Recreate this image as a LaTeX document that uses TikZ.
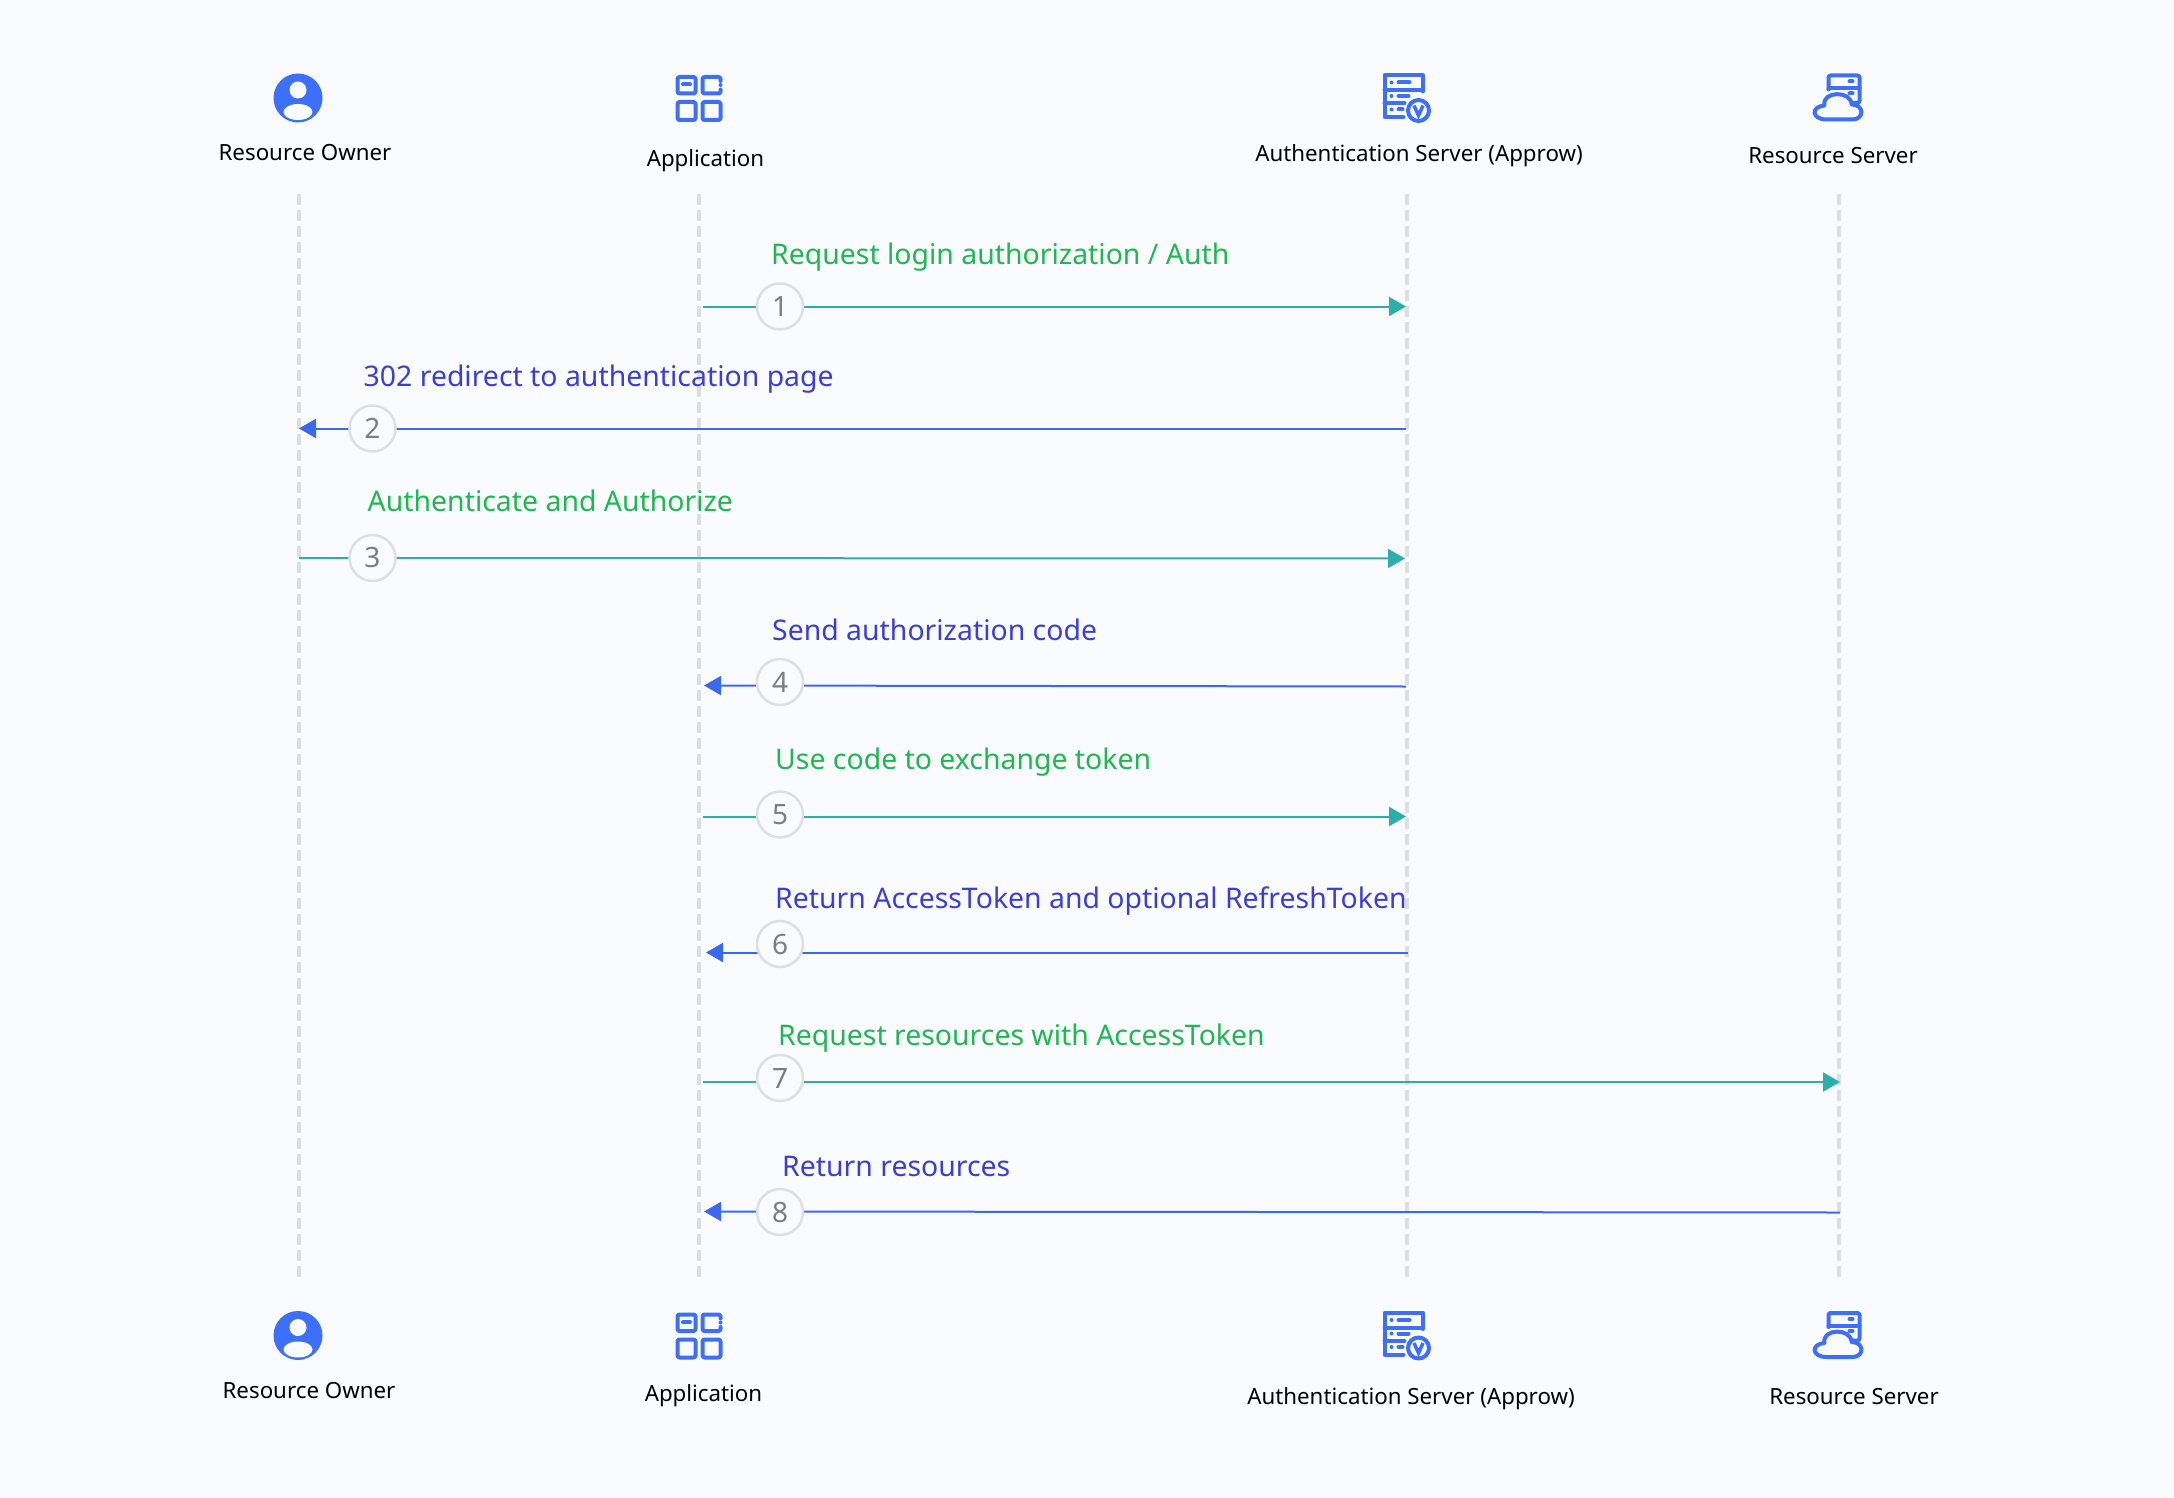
\documentclass[tikz,border=0pt]{standalone}
\usepackage{fontspec}
\setmainfont{Noto Sans}
\usetikzlibrary{arrows.meta}
\definecolor{bgc}{HTML}{FAFBFF}
\definecolor{iconblue}{HTML}{3D6FF8}
\definecolor{lifeg}{HTML}{DCDEE3}
\definecolor{teall}{HTML}{2BAFA8}
\definecolor{bluel}{HTML}{3B69EE}
\definecolor{greent}{HTML}{1DB84F}
\definecolor{bluet}{HTML}{3A3FD2}
\definecolor{numg}{HTML}{7A7D82}
\definecolor{ringg}{HTML}{DEDFE2}
\tikzset{
 x=1pt,y=-1pt,
 life/.style={draw=lifeg,line width=4pt,dash pattern=on 11pt off 5pt},
 msgteal/.style={draw=teall,line width=2pt,-{Triangle[length=17pt,width=19pt]}},
 msgblue/.style={draw=bluel,line width=2pt,-{Triangle[length=17pt,width=19pt]}},
 num/.style={circle,draw=ringg,line width=2.5pt,fill=bgc,minimum size=46pt,inner sep=0pt,text=numg,font=\fontsize{28}{28}\selectfont},
 actor/.style={anchor=base,text=black,inner sep=0pt,font=\fontsize{22.3}{26}\selectfont},
 gmsg/.style={anchor=base west,inner sep=0pt,text=greent,font=\fontsize{28.4}{32}\selectfont},
 bmsg/.style={anchor=base west,inner sep=0pt,text=bluet,font=\fontsize{28.4}{32}\selectfont},
 ic/.style={draw=iconblue,line width=4pt,line cap=round,line join=round},
 personicon/.pic={
  \fill[iconblue] (0,0) circle (24.5);
  \fill[bgc] (0,-8) circle (8.5);
  \fill[bgc] (0,14) ellipse (14.5 and 8);
 },
 appicon/.pic={
  \draw[ic,rounded corners=2pt] (-21.5,-21.5) rectangle (-3.5,-5);
  \draw[ic] (-16,-14) -- (-9,-14);
  \draw[ic,rounded corners=2pt] (21.5,-17.5) -- (21.5,-21.5) -- (3.5,-21.5) -- (3.5,-5) -- (21.5,-5) -- (21.5,-9);
  \fill[iconblue] (21.5,-13.5) circle (2);
  \draw[ic,rounded corners=2pt] (-21.5,3.5) rectangle (-3.5,21.5);
  \draw[ic,rounded corners=2pt] (3.5,3.5) rectangle (21.5,21.5);
 },
 authicon/.pic={
  \draw[ic] (-4,42.5) -- (-23,42.5) -- (-23,0.5) -- (15,0.5) -- (15,17);
  \draw[ic] (-23,15.5) -- (15,15.5);
  \draw[ic] (-23,29) -- (-3,29);
  \foreach \yy in {8,21.5,35}{
   \fill[iconblue] (-16,\yy) circle (2);
  }
  \draw[ic] (-9,8) -- (2,8);
  \draw[ic] (-9,21.5) -- (1,21.5);
  \draw[ic] (-9,35) -- (-5,35);
  \fill[bgc] (11,36) circle (10.5);
  \draw[ic] (11,36) circle (10.5);
  \draw[draw=iconblue,line width=3.5pt,line join=miter] (6.5,31) -- (11,41) -- (15.5,31);
 },
 resicon/.pic={
  \draw[ic,rounded corners=2pt] (-10,15) -- (-10,1) -- (21,1) -- (21,28.5) -- (14,28.5);
  \draw[ic] (-10,14) -- (21,14);
  \draw[ic] (11,7) -- (14,7);
  \draw[ic] (11,19) -- (14,19);
  \filldraw[ic,fill=bgc] (-12,45) -- (14,45) .. controls (26,45) and (26,30) .. (13,30)
   .. controls (13,16) and (-17,16) .. (-14,31)
   .. controls (-28,32) and (-27,45) .. (-12,45) -- cycle;
 },
}
\begin{document}
\begin{tikzpicture}
\useasboundingbox[fill=bgc] (0,0) rectangle (2174,1498);
% lifelines
\coordinate (ot) at (298.5,194); \coordinate (ob) at (298.5,1277);
\coordinate (at) at (699,194);   \coordinate (ab) at (699,1277);
\coordinate (st) at (1407,194);  \coordinate (sb) at (1407,1277);
\coordinate (rt) at (1839,194);  \coordinate (rb) at (1839,1277);
\draw[life] (ot) -- (ob);
\draw[life] (at) -- (ab);
\draw[life] (st) -- (sb);
\draw[life] (rt) -- (rb);
% icons
\pic at (298,98) {personicon};
\pic at (699,98.5) {appicon};
\pic at (1407.5,74.5) {authicon};
\pic at (1838.5,74.5) {resicon};
\pic at (298,1335.5) {personicon};
\pic at (699,1336) {appicon};
\pic at (1407.5,1312) {authicon};
\pic at (1838.5,1312) {resicon};
% actor labels
\node[actor] (l1) at (305,161) {Resource Owner};
\node[actor] (l2) at (705.5,167) {Application};
\node[actor] (l3) at (1419,162) {Authentication Server (Approw)};
\node[actor] (l4) at (1833,164) {Resource Server};
\node[actor] (l5) at (309,1398) {Resource Owner};
\node[actor] (l6) at (703.5,1401) {Application};
\node[actor] (l7) at (1411,1404) {Authentication Server (Approw)};
\node[actor] (l8) at (1854,1404) {Resource Server};
% message end points
\coordinate (s1) at (703,306.5);  \coordinate (e1) at (1406,306.5);
\coordinate (s2) at (1406,428.5); \coordinate (e2) at (299,428.5);
\coordinate (s3) at (299,558);    \coordinate (e3) at (1405,558.5);
\coordinate (s4) at (1406,686.5); \coordinate (e4) at (704,685.5);
\coordinate (s5) at (703,816.5);  \coordinate (e5) at (1406,816.5);
\coordinate (s6) at (1408,952.5); \coordinate (e6) at (706,952.5);
\coordinate (s7) at (703,1082);   \coordinate (e7) at (1840,1082);
\coordinate (s8) at (1840,1212.5);\coordinate (e8) at (704,1211.5);
\draw[msgteal] (s1) -- (e1);
\draw[msgblue] (s2) -- (e2);
\draw[msgteal] (s3) -- (e3);
\draw[msgblue] (s4) -- (e4);
\draw[msgteal] (s5) -- (e5);
\draw[msgblue] (s6) -- (e6);
\draw[msgteal] (s7) -- (e7);
\draw[msgblue] (s8) -- (e8);
% numbers
\node[num] (n1) at (780,306.5) {1};
\node[num] (n2) at (372.5,428.5) {2};
\node[num] (n3) at (372.5,558) {3};
\node[num] (n4) at (780,682) {4};
\node[num] (n5) at (780,814.5) {5};
\node[num] (n6) at (780,944) {6};
\node[num] (n7) at (780,1078) {7};
\node[num] (n8) at (780,1212) {8};
% message labels
\node[gmsg] (m1) at (771,264) {Request login authorization / Auth};
\node[bmsg] (m2) at (363.5,386) {302 redirect to authentication page};
\node[gmsg] (m3) at (367.5,511) {Authenticate and Authorize};
\node[bmsg] (m4) at (772,640) {Send authorization code};
\node[gmsg] (m5) at (775,769) {Use code to exchange token};
\node[bmsg] (m6) at (775,908) {Return AccessToken and optional RefreshToken};
\node[gmsg] (m7) at (778,1045) {Request resources with AccessToken};
\node[bmsg] (m8) at (782,1176) {Return resources};
\end{tikzpicture}
\end{document}
